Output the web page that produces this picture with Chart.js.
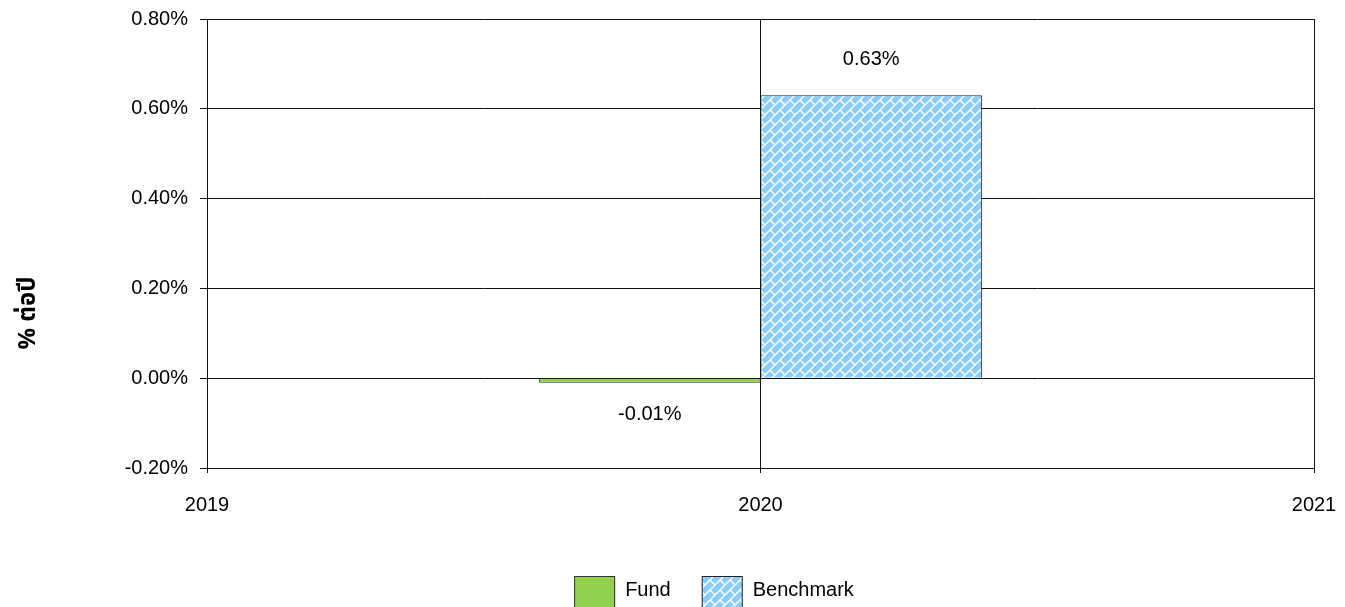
<!DOCTYPE html>
<html>
<head>
<meta charset="utf-8">
<style>
    html, body { margin: 0; padding: 0; background: #ffffff; }
    .chart--wrap { width: 1345px; height: 607px; }
</style>
</head>
<body>
<div class="chart--wrap"><canvas id="returns"></canvas></div>
<script src="https://cdn.jsdelivr.net/npm/chart.js"></script>
<script>
    //values
    const years = ['2019', '2020', '2021'];
    const fundValues = [null, -0.01, null];
    const benchmarkValues = [null, 0.63, null];
    const seriesNames = ['Fund', 'Benchmark'];
    const axisTitle = '% ต่อปี';

    const fontFamily = '"Liberation Sans", Arial, sans-serif';
    Chart.defaults.font.family = fontFamily;
    Chart.defaults.color = '#000000';

    /*light blue brick hatch for the benchmark*/
    function brickPattern() {
        const size = 20;
        const tile = document.createElement('canvas');
        tile.width = size;
        tile.height = size;
        const c = tile.getContext('2d');
        c.fillStyle = '#8acdfc';
        c.fillRect(0, 0, size, size);
        c.strokeStyle = '#ffffff';
        c.lineWidth = 1.4;
        c.beginPath();
        for (let k = -4; k <= 8; k++) {
            const s = 10 * k;
            c.moveTo(-20, s + 20);
            c.lineTo(s + 20, -20);
            //short joints, staggered from one row of bricks to the next
            for (let p = -80; p <= 80; p += 10) {
                c.moveTo(p, s - p);
                c.lineTo(p + 5, s - p + 5);
            }
        }
        c.stroke();
        return c.createPattern(tile, 'repeat');
    }
    const benchmarkFill = brickPattern();

    //titleWidth = lineHeight + padding of the left title
    const titleFontSize = 24;
    const titlePadTop = 16;
    const titleWidth = titleFontSize * 1.2 + titlePadTop;

    /*value labels above / below the bars*/
    const valueLabels = {
        id: 'valueLabels',
        afterDatasetsDraw(chart) {
            const ctx = chart.ctx;
            ctx.save();
            ctx.font = '20px ' + fontFamily;
            ctx.fillStyle = '#000000';
            ctx.textAlign = 'center';
            ctx.textBaseline = 'middle';
            chart.data.datasets.forEach((ds, i) => {
                chart.getDatasetMeta(i).data.forEach((bar, j) => {
                    const v = ds.data[j];
                    if (v === null || v === undefined) return;
                    ctx.fillText(v.toFixed(2) + '%', bar.x, v >= 0 ? bar.y - 36 : bar.y + 32);
                });
            });
            ctx.restore();
        }
    };

    /*legend with big boxes, cut by the bottom edge like the original*/
    const legendBoxes = {
        id: 'legendBoxes',
        afterDraw(chart) {
            const ctx = chart.ctx;
            ctx.save();
            ctx.font = '20px ' + fontFamily;
            const boxW = 41, boxH = 36, gapText = 10, gapItem = 31;
            const items = chart.data.datasets.map(ds => ({
                label: ds.label,
                fill: ds.backgroundColor,
                stroke: ds.borderColor
            }));
            let total = 0;
            items.forEach(it => {
                it.w = boxW + gapText + ctx.measureText(it.label).width;
                total += it.w;
            });
            total += gapItem * (items.length - 1);
            let x = 714 - total / 2;
            const top = 576, mid = 590;
            items.forEach(it => {
                ctx.fillStyle = it.fill;
                ctx.fillRect(x, top, boxW, boxH);
                ctx.strokeStyle = it.stroke;
                ctx.lineWidth = 1;
                ctx.strokeRect(x + 0.5, top + 0.5, boxW - 1, boxH - 1);
                ctx.fillStyle = '#000000';
                ctx.textAlign = 'left';
                ctx.textBaseline = 'middle';
                ctx.fillText(it.label, x + boxW + gapText, mid);
                x += it.w + gapItem;
            });
            ctx.restore();
        }
    };

    //keep the plot box where the original has it, whatever the label overhang
    function noOverhang(scale) {
        scale.paddingTop = 0;
        scale.paddingBottom = 0;
        scale.paddingLeft = 0;
        scale.paddingRight = 0;
    }

    const returns = document.getElementById('returns');
    new Chart(returns, {
        type: 'bar',
        data: {
            labels: years,
            datasets: [{
                label: seriesNames[0],
                data: fundValues,
                backgroundColor: '#92d050',
                borderColor: '#333333',
                borderWidth: 1,
                categoryPercentage: 0.8,
                barPercentage: 1
            }, {
                label: seriesNames[1],
                data: benchmarkValues,
                backgroundColor: benchmarkFill,
                borderColor: '#222222',
                borderWidth: 1,
                categoryPercentage: 0.8,
                barPercentage: 1
            }]
        },
        options: {
            responsive: true,
            maintainAspectRatio: false,
            animation: false,
            layout: { padding: { top: 19, right: 31, bottom: 0, left: 0 } },
            plugins: {
                legend: { display: false },
                tooltip: { enabled: false },
                title: {
                    display: true,
                    position: 'left',
                    text: axisTitle,
                    color: '#000000',
                    font: { family: '"Noto Sans Thai", "Noto Sans", "DejaVu Sans", sans-serif', size: titleFontSize, weight: 'bold' },
                    padding: { top: titlePadTop, bottom: 0 }
                }
            },
            scales: {
                x: {
                    offset: false,
                    grid: { offset: false, color: '#111111', tickLength: 5 },
                    border: { color: '#111111' },
                    ticks: { font: { size: 20 }, padding: 20, maxRotation: 0 },
                    afterFit: (scale) => {
                        scale.height = 139;
                        noOverhang(scale);
                    }
                },
                y: {
                    min: -0.2,
                    max: 0.8,
                    ticks: {
                        stepSize: 0.2,
                        font: { size: 20 },
                        padding: 12,
                        callback: (value) => value.toFixed(2) + '%'
                    },
                    grid: { color: '#111111', tickLength: 7 },
                    border: { color: '#111111' },
                    afterFit: (scale) => {
                        scale.width = 207 - titleWidth;
                        noOverhang(scale);
                    }
                }
            }
        },
        plugins: [valueLabels, legendBoxes]
    });
</script>
</body>
</html>
